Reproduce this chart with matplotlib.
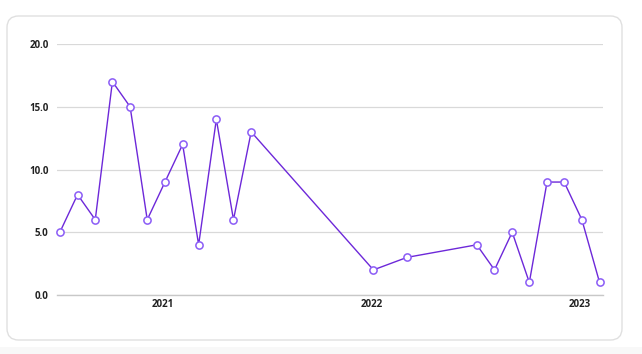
import matplotlib
matplotlib.use("Agg")
from matplotlib import pyplot as plt
from matplotlib.patches import FancyBboxPatch, Rectangle
import matplotlib.dates as mdates
import pandas as pd

dates = pd.to_datetime([
    "2020-07-04", "2020-08-04", "2020-09-04", "2020-10-04", "2020-11-04",
    "2020-12-04", "2021-01-04", "2021-02-04", "2021-03-04", "2021-04-04",
    "2021-05-04", "2021-06-04", "2022-01-04", "2022-03-04", "2022-07-04",
    "2022-08-04", "2022-09-04", "2022-10-04", "2022-11-04", "2022-12-04",
    "2023-01-04", "2023-02-04",
])
values = [5, 8, 6, 17, 15, 6, 9, 12, 4, 14, 6, 13, 2, 3, 4, 2, 5, 1, 9, 9, 6, 1]
y_ticks = [0, 5, 10, 15, 20]

plt.rcParams["font.family"] = ["Open Sans", "DejaVu Sans"]

W, H = 642, 354
fig = plt.figure(figsize=(W / 100, H / 100), dpi=100)
fig.patch.set_facecolor("white")

# card background
fig.patches.append(Rectangle((0, 0), 1, 7 / H, transform=fig.transFigure,
                             facecolor="#f8f8f8", edgecolor="none", zorder=-3))
fig.patches.append(FancyBboxPatch(
    (7 / W, 14 / H), 615 / W, 324 / H, boxstyle="round,pad=0,rounding_size=0.018",
    transform=fig.transFigure, facecolor="white", edgecolor="#e0e0e0",
    linewidth=1, zorder=-2, mutation_aspect=W / H))

ax = fig.add_axes([57 / W, 1 - 295 / H, 546 / W, 251 / H])
ax.set_facecolor("none")

ax.plot(dates, values, color="#6d28d9", linewidth=1.0, zorder=3,
        marker="o", markersize=5.2, markerfacecolor="white",
        markeredgecolor="#8b5cf6", markeredgewidth=1.1, clip_on=False)

ax.set_ylim(0, 20)
ax.set_yticks(y_ticks)
ax.yaxis.set_major_formatter(lambda v, _: f"{v:.1f}")
ax.set_xlim(pd.Timestamp("2020-06-29"), pd.Timestamp("2023-02-10"))
ax.xaxis.set_major_locator(mdates.YearLocator())
ax.xaxis.set_major_formatter(mdates.DateFormatter("%Y"))

ax.grid(axis="y", color="#d9d9d9", linewidth=0.9)
ax.axhline(0, color="#c8c8c8", linewidth=1.0, zorder=1, clip_on=False)
ax.set_axisbelow(True)
for s in ax.spines.values():
    s.set_visible(False)
ax.tick_params(length=0, labelsize=7, colors="#222222")
ax.tick_params(axis="y", pad=6)
ax.tick_params(axis="x", pad=3)
for lbl in ax.get_xticklabels() + ax.get_yticklabels():
    lbl.set_fontweight("bold")

fig.savefig("out.png", dpi=100)
